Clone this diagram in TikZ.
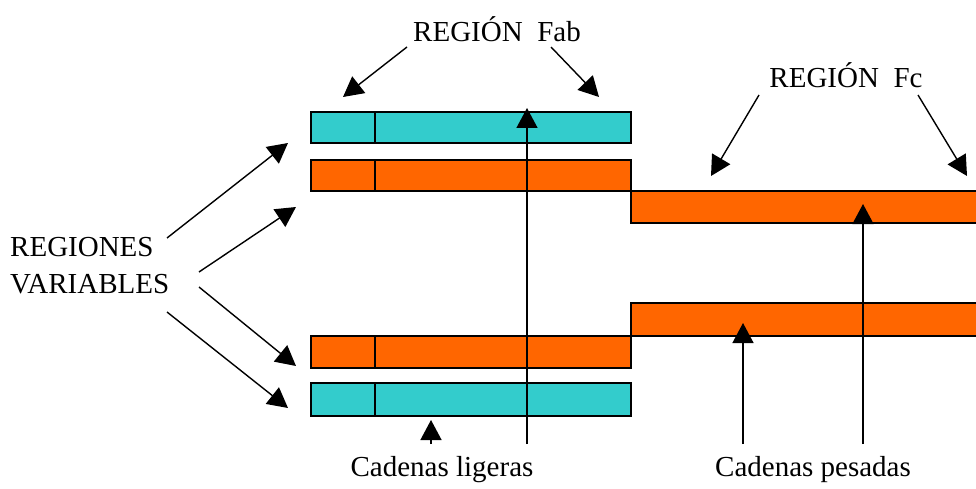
\documentclass[tikz,border=0pt]{standalone}
\usepackage{fontspec}
\setmainfont{Liberation Serif}
\usetikzlibrary{arrows.meta}
\definecolor{vcyan}{HTML}{33CCCC}
\definecolor{corange}{HTML}{FF6600}
\begin{document}
\begin{tikzpicture}[x=1pt,y=-1pt,
  bar/.style={draw=black,line width=1.4pt},
  lbl/.style={font=\fontsize{29}{37}\selectfont,inner sep=0pt},
  pointer/.style={line width=1.4pt,-{Triangle[length=20pt,width=21pt]}}]
\useasboundingbox (0,0) rectangle (976,489);

% light chains (left)
\filldraw[bar,fill=vcyan]   (311,112) rectangle (631,143);
\draw[line width=1.4pt] (375,112) -- (375,143);
\filldraw[bar,fill=corange] (311,160) rectangle (631,191);
\draw[line width=1.4pt] (375,160) -- (375,191);
\filldraw[bar,fill=corange] (311,336) rectangle (631,368);
\draw[line width=1.4pt] (375,336) -- (375,368);
\filldraw[bar,fill=vcyan]   (311,383) rectangle (631,416);
\draw[line width=1.4pt] (375,383) -- (375,416);

% heavy chain constant regions (right)
\filldraw[bar,fill=corange] (631,191) rectangle (990,223);
\filldraw[bar,fill=corange] (631,303) rectangle (990,336);

% labels
\node[lbl,anchor=west,align=left] (var) at (10,266) {REGIONES\\VARIABLES};
\node[lbl] (fab) at (497,29) {REGIÓN\ \ Fab};
\node[lbl] (fc) at (846,75) {REGIÓN\ \ Fc};
\node[lbl] (lig) at (442,470) {Cadenas ligeras};
\node[lbl] (pes) at (813,470) {Cadenas pesadas};

% anchor points of the pointers
\coordinate (v1s) at (167,238); \coordinate (v1e) at (288,143);
\coordinate (v2s) at (199,272); \coordinate (v2e) at (296,207);
\coordinate (v3s) at (199,287); \coordinate (v3e) at (296,366);
\coordinate (v4s) at (167,312); \coordinate (v4e) at (288,408);
\coordinate (a1s) at (407,47);  \coordinate (a1e) at (343,97);
\coordinate (a2s) at (551,47);  \coordinate (a2e) at (599,97);
\coordinate (c1s) at (759,95);  \coordinate (c1e) at (711,176);
\coordinate (c2s) at (918,95);  \coordinate (c2e) at (967,176);
\coordinate (l1s) at (431,444); \coordinate (l1e) at (431,420);
\coordinate (l2s) at (527,444); \coordinate (l2e) at (527,108);
\coordinate (p1s) at (743,444); \coordinate (p1e) at (743,323);
\coordinate (p2s) at (863,444); \coordinate (p2e) at (863,204);

\foreach \p in {v1,v2,v3,v4,a1,a2,c1,c2,l1,l2,p1,p2}
  \draw[pointer] (\p s) -- (\p e);
\end{tikzpicture}
\end{document}
